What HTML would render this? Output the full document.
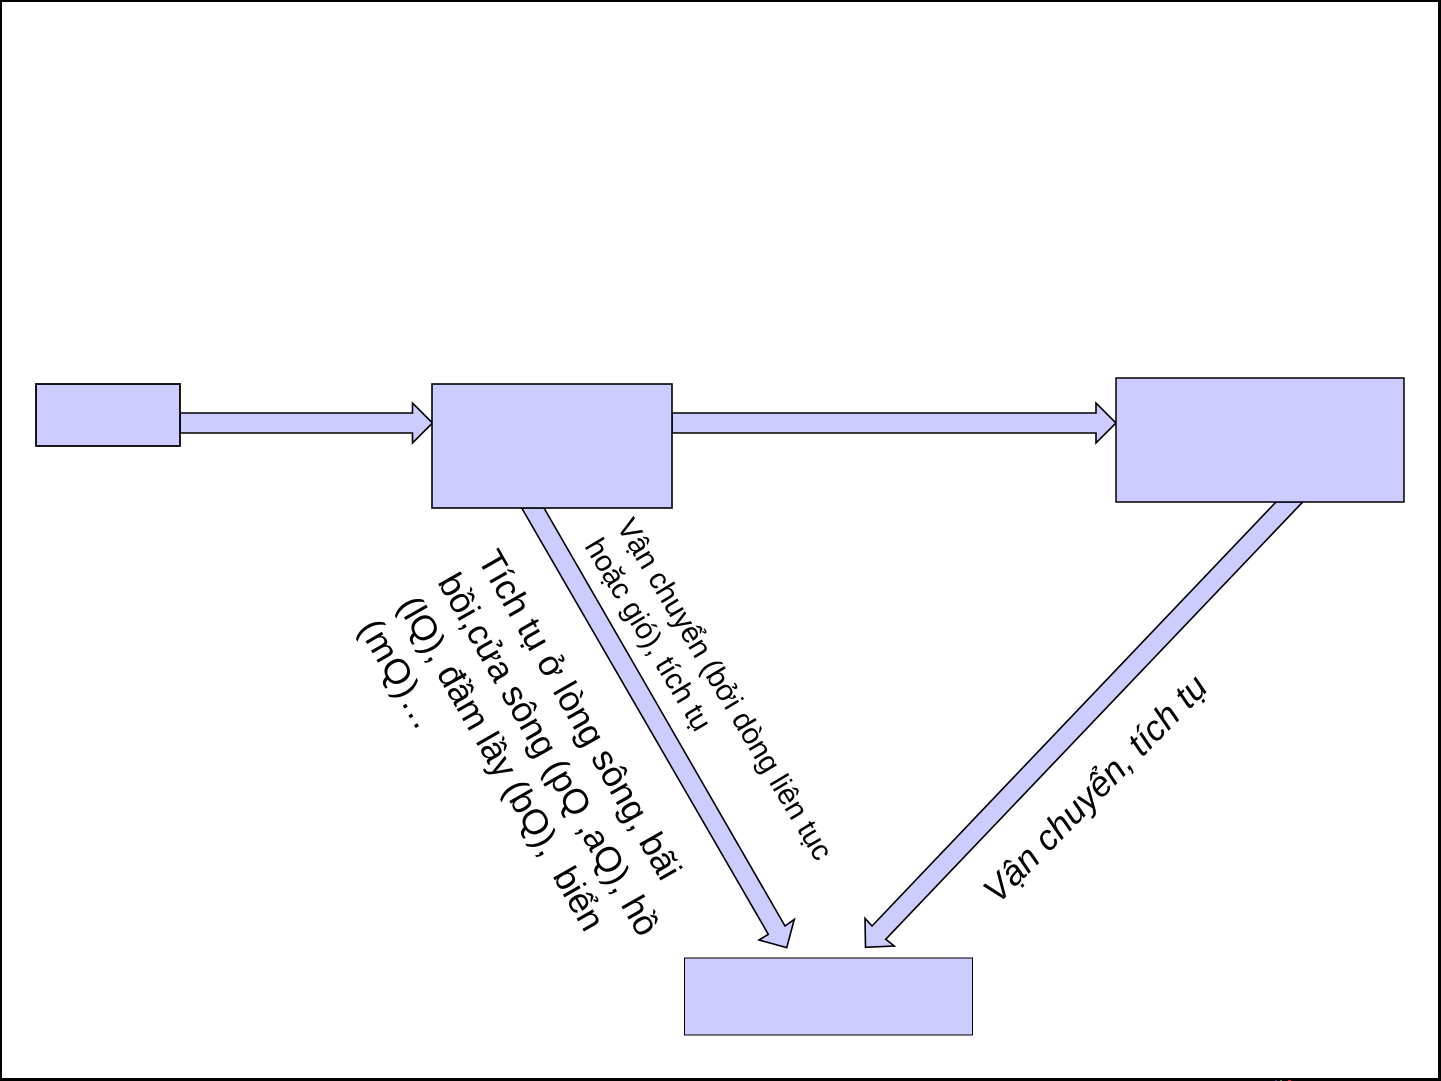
<!DOCTYPE html>
<html>
<head>
<meta charset="utf-8">
<style>
html,body{margin:0;padding:0;background:#fff;width:1441px;height:1081px;overflow:hidden}
svg{display:block}
text{font-family:"Liberation Sans",Arial,sans-serif;fill:#000}
</style>
</head>
<body>
<svg width="1441" height="1081" viewBox="0 0 1441 1081" xmlns="http://www.w3.org/2000/svg">
<rect x="0" y="0" width="1441" height="1081" fill="#000"/>
<rect x="2" y="2" width="1436" height="1076" fill="#fff"/>
<rect x="1275" y="1080" width="2" height="1" fill="#303080"/>
<rect x="1280" y="1080" width="2" height="1" fill="#408040"/>
<rect x="1288" y="1080" width="3" height="1" fill="#d02020"/>

<g fill="#ccccff" stroke="#000" stroke-width="1.6" stroke-linejoin="miter">
<polygon points="180,413 412.5,413 412.5,403 432.5,423 412.5,443 412.5,433 180,433"/>
<polygon points="672,413 1096,413 1096,403 1116,423 1096,443 1096,433 672,433"/>
<polygon points="521.7,508 544,508 785,926 794.3,919.3 786.7,947.7 759,940 768.3,934.3"/>
<polygon points="1276,502 1302.7,502 885.7,939.3 894.3,946 865.5,947.3 865,918.3 872,926"/>
<rect x="36" y="384" width="144" height="62" stroke-width="1.8"/>
<rect x="432" y="384" width="240" height="124" stroke-width="1.6"/>
<rect x="1116" y="378" width="288" height="124" stroke-width="1.5"/>
<rect x="684.5" y="958" width="288" height="77" stroke-width="1"/>
</g>

<text transform="translate(477,559) rotate(60.3)" font-size="35.5">Tích tụ ở lòng sông, bãi</text>
<text transform="translate(437,582) rotate(60.4)" font-size="35.3">bồi,cửa sông (pQ ,aQ), hồ</text>
<text transform="translate(397,605) rotate(60.2)" font-size="35.3">(lQ), đầm lầy (bQ),&#160; biển</text>
<text transform="translate(358,628) rotate(60)" font-size="35.5" letter-spacing="1">(mQ)…</text>

<text transform="translate(616,526) rotate(59.2)" font-size="29.5">Vận chuyển (bởi dòng liên tục</text>
<text transform="translate(584,546) rotate(59.2)" font-size="29.5">hoặc gió), tích tụ</text>

<text transform="translate(998,905) rotate(-45.6)" font-size="35.3" font-style="italic">Vận chuyển, tích tụ</text>
</svg>
</body>
</html>
